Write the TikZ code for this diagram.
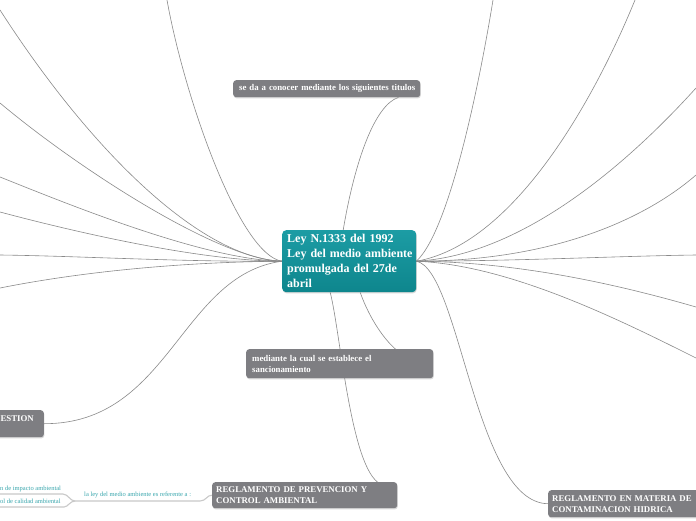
\documentclass[tikz,border=0pt]{standalone}
\usepackage{fontspec}
\setmainfont{Liberation Serif}
\usetikzlibrary{shadows,calc}
\definecolor{nodegray}{HTML}{7E7E82}
\definecolor{tealtop}{HTML}{1C9CA4}
\definecolor{tealbot}{HTML}{0E868D}
\definecolor{linkgray}{HTML}{8A8A8A}
\definecolor{tealtext}{HTML}{3AA7AE}
\definecolor{ulinecol}{HTML}{C9C9C9}
\pgfdeclarelayer{bgwhite}
\pgfdeclarelayer{links}
\pgfsetlayers{bgwhite,links,main}
\begin{document}
\begin{tikzpicture}[x=1pt,y=-1pt,
  gnode/.style={fill=nodegray, rounded corners=3pt, text=white,
    font=\bfseries\fontsize{8.8}{11}\selectfont, align=left, inner ysep=0pt,
    drop shadow={shadow xshift=0.6pt, shadow yshift=-1.2pt, opacity=0.3}},
  cnode/.style={top color=tealtop, bottom color=tealbot, rounded corners=4pt,
    text=white, font=\bfseries\fontsize{12}{15}\selectfont, align=left, inner ysep=0pt,
    drop shadow={shadow xshift=0.6pt, shadow yshift=-1.2pt, opacity=0.3}},
  tnode/.style={text=tealtext, font=\fontsize{6.5}{8}\selectfont, inner sep=0pt},
  link/.style={draw=linkgray, line width=0.6pt},
  uline/.style={draw=ulinecol, line width=1.1pt}]
\useasboundingbox (0,0) rectangle (696,520);
\begin{pgfonlayer}{bgwhite}
  \fill[white] (0,0) rectangle (696,520);
\end{pgfonlayer}

% nodes
\node[cnode, anchor=north west, minimum width=134pt, minimum height=62pt,
  text width=124pt, inner xsep=5pt] (c) at (282,230)
  {\mbox{Ley N.1333 del 1992}\\\mbox{Ley del medio ambiente}\\\mbox{promulgada del 27de}\\\mbox{abril}};
\node[gnode, anchor=north west, minimum width=187pt, minimum height=17pt,
  text width=175pt, inner xsep=6pt] (t) at (233,80)
  {\mbox{se da a conocer mediante los siguientes titulos}};
\node[gnode, anchor=north west, minimum width=187pt, minimum height=29pt,
  text width=175pt, inner xsep=6pt] (m) at (246,349)
  {\mbox{mediante la cual se establece el}\\\mbox{sancionamiento}};
\node[gnode, anchor=north west, minimum width=185pt, minimum height=26pt,
  text width=177pt, inner xsep=4pt] (p) at (212,482)
  {\mbox{REGLAMENTO DE PREVENCION Y}\\\mbox{CONTROL AMBIENTAL}};
\node[gnode, anchor=north west, minimum width=170pt, minimum height=27pt,
  text width=162pt, inner xsep=4pt] (r) at (548,490)
  {\mbox{REGLAMENTO EN MATERIA DE}\\\mbox{CONTAMINACION HIDRICA}};
\node[gnode, anchor=north east, minimum width=100pt, minimum height=27pt,
  text width=80pt, inner xsep=10pt, align=right] (e) at (44,410)
  {ESTION\\\phantom{X}};

\node[tnode, anchor=base west] (ley) at (84,496) {la ley del medio ambiente es referente a :};
\node[tnode, anchor=base west] (g1) at (0,490) {n de impacto ambiental};
\node[tnode, anchor=base west] (g2) at (0,503) {ol de calidad ambiental};

% off-page ends
\coordinate (L1) at (0,10);
\coordinate (L2) at (0,103);
\coordinate (L3) at (0,177);
\coordinate (L4) at (0,212);
\coordinate (L5) at (0,255);
\coordinate (L6) at (0,288);
\coordinate (LT) at (167,0);
\coordinate (RT1) at (493,0);
\coordinate (RT2) at (635,0);
\coordinate (R1) at (696,88);
\coordinate (R2) at (696,175);
\coordinate (R3) at (696,255);
\coordinate (R4) at (696,307);
\coordinate (R5) at (696,358);
\coordinate (j) at (75,501);
\coordinate (jr) at (200,501);
\coordinate (g1l) at (-5,494);
\coordinate (g1r) at (63,494);
\coordinate (g2l) at (-5,507);
\coordinate (g2r) at (64,507);

\begin{pgfonlayer}{links}
  % left side
  \draw[link] (c.west) .. controls (200,258) and (90,150) .. (L1);
  \draw[link] (c.west) .. controls (220,260) and (80,170) .. (L2);
  \draw[link] (c.west) .. controls (205,260) and (70,205) .. (L3);
  \draw[link] (c.west) .. controls (200,261) and (75,232) .. (L4);
  \draw[link] (c.west) .. controls (180,262) and (80,256) .. (L5);
  \draw[link] (c.west) .. controls (180,262) and (80,272) .. (L6);
  \draw[link] (c.west) .. controls (240,255) and (185,100) .. (LT);
  \draw[link] (c.west) .. controls (180,275) and (170,424) .. (e.east);
  % right side
  \draw[link] (c.east) .. controls (450,230) and (480,80) .. (RT1);
  \draw[link] (c.east) .. controls (510,245) and (590,110) .. (RT2);
  \draw[link] (c.east) .. controls (530,255) and (640,150) .. (R1);
  \draw[link] (c.east) .. controls (560,261) and (650,215) .. (R2);
  \draw[link] (c.east) .. controls (520,261) and (620,256) .. (R3);
  \draw[link] (c.east) .. controls (520,262) and (620,285) .. (R4);
  \draw[link] (c.east) .. controls (510,265) and (620,320) .. (R5);
  \draw[link] (c.east) .. controls (460,270) and (475,503) .. (r.west);
  % top and bottom
  \draw[link] ([xshift=-6pt]c.north) .. controls (355,160) and (375,105) .. ([xshift=-22pt]t.south east);
  \draw[link] ([xshift=11pt]c.south) .. controls (370,320) and (385,340) .. ([xshift=-38pt]m.north east);
  \draw[link] ([xshift=-19pt]c.south) .. controls (340,330) and (350,460) .. ([xshift=-20pt]p.north east);
  % underlines of the teal texts
  \draw[uline] (j) -- (jr) .. controls (206,501) and (207,495) .. (p.west);
  \draw[uline] (g1l) -- (g1r) .. controls (68,494) and (70,501) .. (j);
  \draw[uline] (g2l) -- (g2r) .. controls (68,507) and (70,501) .. (j);
\end{pgfonlayer}
\end{tikzpicture}
\end{document}
